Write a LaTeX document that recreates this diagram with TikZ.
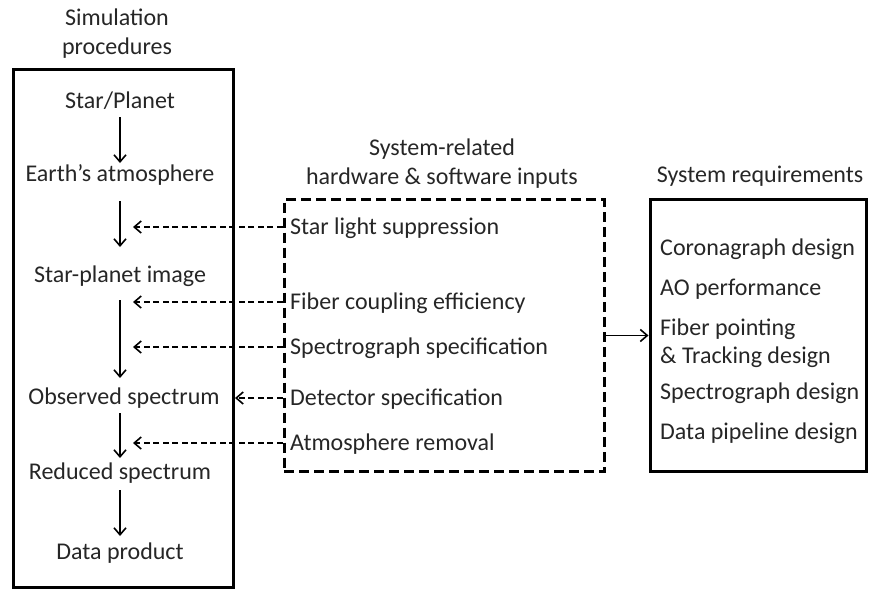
\documentclass[tikz,border=0pt]{standalone}
\usepackage{fontspec}
\setmainfont{Carlito}
\usetikzlibrary{arrows.meta}
\begin{document}
\begin{tikzpicture}[x=1pt,y=-1pt,
  lbl/.style={inner sep=0pt, font=\fontsize{24}{29}\selectfont, text=black!85},
  ttl/.style={lbl, align=center},
  lft/.style={lbl, anchor=west},
  flow/.style={-{Straight Barb[length=7pt,width=12pt]}, line width=1.6pt},
  dsh/.style={-{Straight Barb[length=7pt,width=12pt]}, line width=1.6pt, dash pattern=on 6pt off 3.5pt},
  solidbox/.style={draw, line width=3pt},
  dashbox/.style={draw, line width=3pt, dash pattern=on 10pt off 5pt}]
\useasboundingbox (0,0) rectangle (870,589);
% boxes
\node[solidbox, minimum width=220pt, minimum height=518pt, inner sep=0pt] (simbox) at (123,328) {};
\node[dashbox, minimum width=320pt, minimum height=272pt, inner sep=0pt] (inbox) at (444,335.5) {};
\node[solidbox, minimum width=216pt, minimum height=272pt, inner sep=0pt] (reqbox) at (758,335.5) {};
% titles
\node[ttl] (simttl) at (117,34) {Simulation\\procedures};
\node[ttl] (inttl) at (442,164) {System-related\\hardware \& software inputs};
\node[lbl] (reqttl) at (760,176) {System requirements};
% simulation steps
\node[lbl] (s1) at (120,101) {Star/Planet};
\node[lbl] (s2) at (120,175) {Earth’s atmosphere};
\node[lbl] (s3) at (120,276) {Star-planet image};
\node[lbl] (s4) at (124,398) {Observed spectrum};
\node[lbl] (s5) at (120,473) {Reduced spectrum};
\node[lbl] (s6) at (120,553) {Data product};
\coordinate (a1s) at (120,117); \coordinate (a1e) at (120,163);
\coordinate (a2s) at (120,201); \coordinate (a2e) at (120,247);
\coordinate (a3s) at (120,300); \coordinate (a3e) at (120,378);
\coordinate (a4s) at (120,413); \coordinate (a4e) at (120,458);
\coordinate (a5s) at (120,490); \coordinate (a5e) at (120,536);
\draw[flow] (a1s) -- (a1e);
\draw[flow] (a2s) -- (a2e);
\draw[flow] (a3s) -- (a3e);
\draw[flow] (a4s) -- (a4e);
\draw[flow] (a5s) -- (a5e);
% inputs
\node[lft] (i1) at (290,228) {Star light suppression};
\node[lft] (i2) at (290,303) {Fiber coupling efficiency};
\node[lft] (i3) at (290,348) {Spectrograph specification};
\node[lft] (i4) at (290,399) {Detector specification};
\node[lft] (i5) at (290,444) {Atmosphere removal};
\coordinate (t1) at (133,227);
\coordinate (t2) at (133,302);
\coordinate (t3) at (133,347);
\coordinate (t4) at (235,398);
\coordinate (t5) at (133,443);
\draw[dsh] (inbox.west |- t1) -- (t1);
\draw[dsh] (inbox.west |- t2) -- (t2);
\draw[dsh] (inbox.west |- t3) -- (t3);
\draw[dsh] (inbox.west |- t4) -- (t4);
\draw[dsh] (inbox.west |- t5) -- (t5);
% requirements
\node[lft] (r1) at (660,249) {Coronagraph design};
\node[lft] (r2) at (660,289) {AO performance};
\node[lft] (r3) at (660,329) {Fiber pointing};
\node[lft] (r4) at (660,357) {\& Tracking design};
\node[lft] (r5) at (660,393) {Spectrograph design};
\node[lft] (r6) at (660,433) {Data pipeline design};
\draw[flow] (inbox.east) -- (reqbox.west);
\end{tikzpicture}
\end{document}
